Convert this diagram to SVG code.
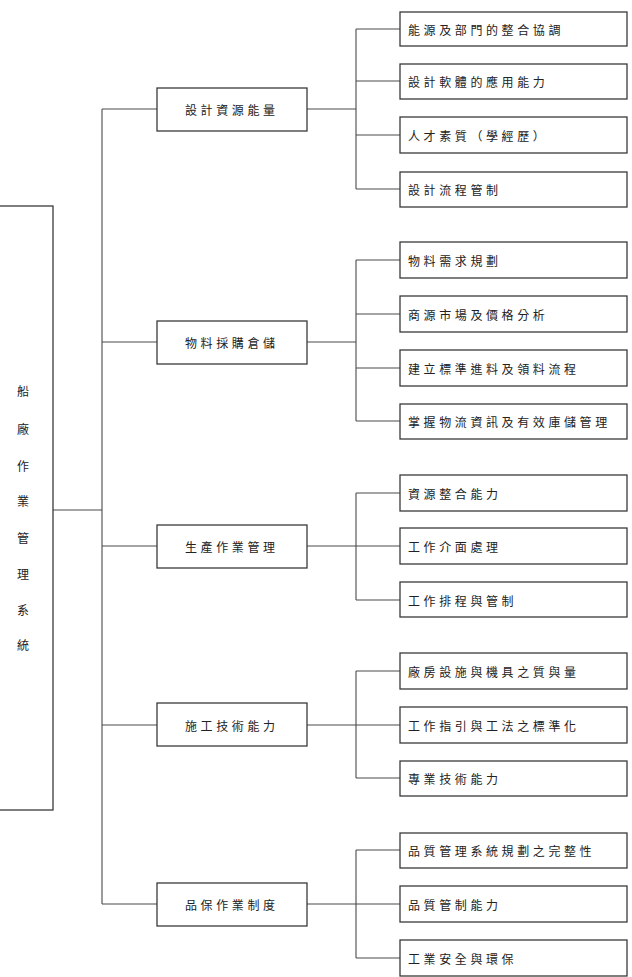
<svg xmlns="http://www.w3.org/2000/svg" width="632" height="977" viewBox="0 0 632 977">
<style>
.box{fill:#fff;stroke:#3a3a3a;stroke-width:1.3}
.ln{fill:none;stroke:#4a4a4a;stroke-width:1.1}
text{font-family:"Noto Sans CJK TC","Noto Sans CJK SC",sans-serif;font-size:12px;fill:#222;letter-spacing:3.6px;dominant-baseline:central}
.v{letter-spacing:0}
</style>
<rect width="632" height="977" fill="#fff"/>
<g id="connectors">
<path class="ln" d="M53 510H102M102 109V904"/>
<path class="ln" d="M102 109H157M102 342H157M102 546H157M102 725H157M102 904H157"/>
<path class="ln" d="M307 109H356M356 29V189M356 29H400M356 81H400M356 135H400M356 189H400"/>
<path class="ln" d="M307 342H356M356 260V421M356 260H400M356 314H400M356 368H400M356 421H400"/>
<path class="ln" d="M307 546H356M356 493V600M356 493H400M356 546H400M356 600H400"/>
<path class="ln" d="M307 725H356M356 671V778M356 671H400M356 725H400M356 778H400"/>
<path class="ln" d="M307 904H356M356 850V958M356 850H400M356 904H400M356 958H400"/>
</g>
<g id="root">
<rect class="box" x="-2" y="206" width="55" height="604"/>
<g class="v" text-anchor="middle">
<text class="v" x="23" y="390">船</text>
<text class="v" x="23" y="428">廠</text>
<text class="v" x="23" y="465">作</text>
<text class="v" x="23" y="500">業</text>
<text class="v" x="23" y="537">管</text>
<text class="v" x="23" y="573">理</text>
<text class="v" x="23" y="609">系</text>
<text class="v" x="23" y="644">統</text>
</g>
</g>
<g id="l1-1"><rect class="box" x="157" y="88" width="150" height="43"/><text x="185" y="109">設計資源能量</text></g>
<g id="l1-2"><rect class="box" x="157" y="321" width="150" height="43"/><text x="185" y="342">物料採購倉儲</text></g>
<g id="l1-3"><rect class="box" x="157" y="525" width="150" height="43"/><text x="185" y="546">生產作業管理</text></g>
<g id="l1-4"><rect class="box" x="157" y="703" width="150" height="43"/><text x="185" y="725">施工技術能力</text></g>
<g id="l1-5"><rect class="box" x="157" y="883" width="150" height="43"/><text x="185" y="904">品保作業制度</text></g>

<g id="c1-1"><rect class="box" x="400" y="12" width="227" height="34"/><text x="408" y="29">能源及部門的整合協調</text></g>
<g id="c1-2"><rect class="box" x="400" y="64" width="227" height="35"/><text x="408" y="81">設計軟體的應用能力</text></g>
<g id="c1-3"><rect class="box" x="400" y="117" width="227" height="36"/><text x="408" y="135">人才素質（學經歷）</text></g>
<g id="c1-4"><rect class="box" x="400" y="172" width="227" height="35"/><text x="408" y="189">設計流程管制</text></g>

<g id="c2-1"><rect class="box" x="400" y="242" width="227" height="36"/><text x="408" y="260">物料需求規劃</text></g>
<g id="c2-2"><rect class="box" x="400" y="296" width="227" height="36"/><text x="408" y="314">商源市場及價格分析</text></g>
<g id="c2-3"><rect class="box" x="400" y="350" width="227" height="36"/><text x="408" y="368">建立標準進料及領料流程</text></g>
<g id="c2-4"><rect class="box" x="400" y="404" width="227" height="35"/><text x="408" y="421">掌握物流資訊及有效庫儲管理</text></g>

<g id="c3-1"><rect class="box" x="400" y="475" width="227" height="36"/><text x="408" y="493">資源整合能力</text></g>
<g id="c3-2"><rect class="box" x="400" y="528" width="227" height="36"/><text x="408" y="546">工作介面處理</text></g>
<g id="c3-3"><rect class="box" x="400" y="582" width="227" height="35"/><text x="408" y="600">工作排程與管制</text></g>

<g id="c4-1"><rect class="box" x="400" y="653" width="227" height="36"/><text x="408" y="671">廠房設施與機具之質與量</text></g>
<g id="c4-2"><rect class="box" x="400" y="707" width="227" height="36"/><text x="408" y="725">工作指引與工法之標準化</text></g>
<g id="c4-3"><rect class="box" x="400" y="761" width="227" height="35"/><text x="408" y="778">專業技術能力</text></g>

<g id="c5-1"><rect class="box" x="400" y="833" width="227" height="35"/><text x="408" y="850">品質管理系統規劃之完整性</text></g>
<g id="c5-2"><rect class="box" x="400" y="886" width="227" height="36"/><text x="408" y="904">品質管制能力</text></g>
<g id="c5-3"><rect class="box" x="400" y="940" width="227" height="36"/><text x="408" y="958">工業安全與環保</text></g>
</svg>
